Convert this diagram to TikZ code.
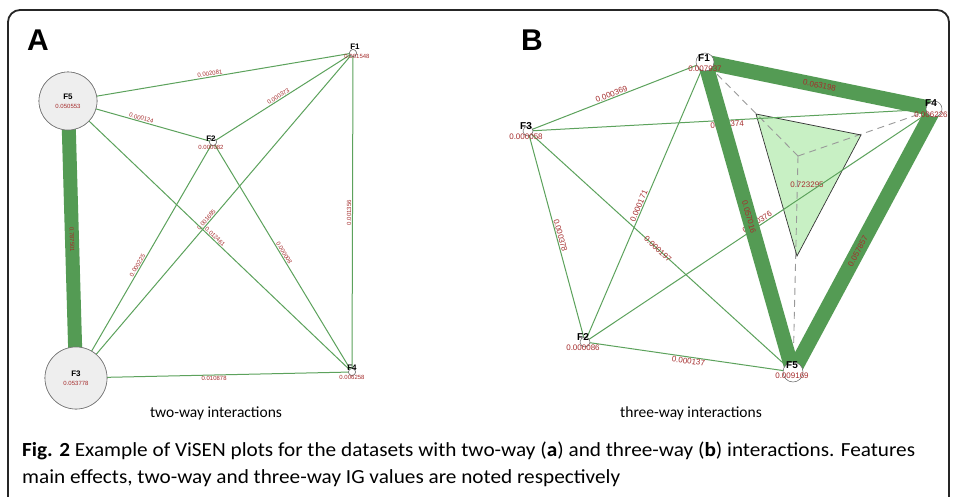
\documentclass[tikz,border=0pt]{standalone}
\usepackage{fontspec}
\setmainfont{Liberation Sans}
\newfontfamily\capfont{Carlito}
\definecolor{edgegreen}{RGB}{92,162,92}
\definecolor{bandgreen}{RGB}{84,155,84}
\definecolor{labred}{RGB}{165,45,45}
\definecolor{trifill}{RGB}{200,240,196}
\definecolor{nodegray}{RGB}{238,238,238}
\tikzset{
  thinedge/.style={draw=edgegreen, line width=1pt},
  bandA/.style={draw=bandgreen, line width=14pt},
  bandB/.style={draw=bandgreen, line width=15pt},
  elabA/.style={text=labred, font=\fontsize{6}{6}\selectfont, inner sep=0.8pt, sloped},
  elabB/.style={text=labred, font=\fontsize{8}{8}\selectfont, inner sep=0.8pt, sloped},
  bignode/.style={circle, draw=black!55, fill=nodegray, line width=0.6pt, inner sep=0pt},
  smallnode/.style={circle, draw=black!60, fill=white, line width=0.5pt, inner sep=0pt},
  fnameA/.style={font=\fontsize{8}{8}\selectfont\bfseries, inner sep=0pt},
  fvalA/.style={text=labred, font=\fontsize{6}{6}\selectfont, inner sep=0pt},
  fnameB/.style={font=\fontsize{10}{10}\selectfont\bfseries, inner sep=0pt},
  fvalB/.style={text=labred, font=\fontsize{8}{8}\selectfont, inner sep=0pt},
  panellabel/.style={font=\fontsize{30}{30}\selectfont\bfseries, inner sep=0pt},
  subtitle/.style={font=\capfont\fontsize{15.5}{15.5}\selectfont, inner sep=0pt},
  captext/.style={font=\capfont\fontsize{20}{20}\selectfont, inner sep=0pt, anchor=west},
  dashedgray/.style={draw=black!40, line width=0.9pt, dash pattern=on 7pt off 5pt}
}
\begin{document}
\begin{tikzpicture}[x=1pt,y=-1pt]
\useasboundingbox (0,0) rectangle (956,496);
\fill[white] (0,0) rectangle (956,496);
% frame
\draw[line width=1.8pt, black!85, rounded corners=12pt] (8,530) -- (8,10) -- (949,10) -- (949,530);

% ---------------- Panel A ----------------
\node[panellabel] (labA) at (38,40) {A};
\node[bignode, minimum size=58pt] (A5) at (68,101) {};
\node[bignode, minimum size=62pt] (A3) at (76,378) {};
\node[smallnode, minimum size=7pt] (A1) at (353,53) {};
\node[smallnode, minimum size=7pt] (A2) at (213,142) {};
\node[smallnode, minimum size=7pt] (A4) at (352,372) {};

\draw[thinedge] (A5.center) -- node[elabA, pos=0.5, above] {0.002081} (A1.center);
\draw[thinedge] (A5.center) -- node[elabA, pos=0.5, above] {0.000124} (A2.center);
\draw[thinedge] (A2.center) -- node[elabA, pos=0.48, above] {0.000373} (A1.center);
\draw[thinedge] (A4.center) -- node[elabA, pos=0.5, above] {0.001356} (A1.center);
\draw[thinedge] (A3.center) -- node[elabA, pos=0.5, below] {0.010878} (A4.center);
\draw[thinedge] (A3.center) -- node[elabA, pos=0.47, above] {0.000225} (A2.center);
\draw[thinedge] (A3.center) -- node[elabA, pos=0.48, above] {0.001685} (A1.center);
\draw[thinedge] (A5.center) -- node[elabA, pos=0.51, above] {0.012461} (A4.center);
\draw[thinedge] (A2.center) -- node[elabA, pos=0.49, above] {0.000008} (A4.center);
\draw[bandA] (A5.center) -- node[elabA, pos=0.5] {0.787501} (A3.center);

% nodes on top of the connectors
\node[bignode, minimum size=58pt] at (A5) {};
\node[bignode, minimum size=62pt] at (A3) {};
\node[smallnode, minimum size=7pt] at (A1) {};
\node[smallnode, minimum size=7pt] at (A2) {};
\node[smallnode, minimum size=7pt] at (A4) {};

\node[fnameA] (A5n) at (68,97) {F5};
\node[fvalA] (A5v) at (68,106) {0.050553};
\node[fnameA] (A3n) at (76,374) {F3};
\node[fvalA] (A3v) at (76,383) {0.053778};
\node[fnameA] (A1n) at (355,47) {F1};
\node[fvalA] (A1v) at (357,56) {0.001548};
\node[fnameA] (A2n) at (211,139) {F2};
\node[fvalA] (A2v) at (211,147) {0.000082};
\node[fnameA] (A4n) at (352,368) {F4};
\node[fvalA] (A4v) at (352,377) {0.006258};

\node[subtitle] (subA) at (216,413) {two-way interactions};

% ---------------- Panel B ----------------
\node[panellabel] (labB) at (532,40) {B};
\coordinate (B1) at (705,62);
\coordinate (B3) at (528,131);
\coordinate (B4) at (934,109);
\coordinate (B2) at (585,342);
\coordinate (B5) at (793,372);
\coordinate (Bc) at (798,156);

\fill[trifill] (756,114) -- (861,135) -- (797,256) -- cycle;
\node[text=labred, font=\fontsize{8}{8}\selectfont, inner sep=0pt] (tri) at (807,185) {0.723295};
\draw[dashedgray, shorten >=16pt] (Bc) -- (B1);
\draw[dashedgray, shorten >=16pt] (Bc) -- (B4);
\draw[dashedgray, shorten >=24pt] (Bc) -- (B5);
\draw[black!80, line width=0.7pt] (756,114) -- (861,135) -- (797,256) -- cycle;

\draw[thinedge] (B3) -- node[elabB, pos=0.48, above] {0.000369} (B1);
\draw[thinedge] (B3) -- node[elabB, pos=0.49, below] {0.000374} (B4);
\draw[thinedge] (B3) -- node[elabB, pos=0.5, above] {0.000378} (B2);
\draw[thinedge] (B3) -- node[elabB, pos=0.49] {0.000197} (B5);
\draw[thinedge] (B2) -- node[elabB, pos=0.48, above] {0.000171} (B1);
\draw[thinedge] (B2) -- node[elabB, pos=0.5, above] {0.000376} (B4);
\draw[thinedge] (B2) -- node[elabB, pos=0.5, below] {0.000137} (B5);

\draw[bandB] (B1) -- node[elabB, pos=0.5] {0.063198} (B4);
\draw[bandB] (B1) -- node[elabB, pos=0.5] {0.057016} (B5);
\draw[bandB] (B5) -- node[elabB, pos=0.46] {0.057857} (B4);

\node[smallnode, minimum size=18pt] (B1c) at (B1) {};
\node[smallnode, minimum size=10pt] (B3c) at (B3) {};
\node[smallnode, minimum size=16pt] (B4c) at (B4) {};
\node[smallnode, minimum size=10pt] (B2c) at (B2) {};
\node[smallnode, minimum size=20pt] (B5c) at (B5) {};

\node[fnameB] (B1n) at (704,58) {F1};
\node[fvalB] (B1v) at (705,69) {0.007937};
\node[fnameB] (B3n) at (526,126) {F3};
\node[fvalB] (B3v) at (526,137) {0.000058};
\node[fnameB] (B4n) at (931,103) {F4};
\node[fvalB] (B4v) at (931,115) {0.006226};
\node[fnameB] (B2n) at (583,337) {F2};
\node[fvalB] (B2v) at (583,348) {0.000086};
\node[fnameB] (B5n) at (792,365) {F5};
\node[fvalB] (B5v) at (792,376) {0.009169};

\node[subtitle] (subB) at (691,413) {three-way interactions};

% caption
\node[captext] (cap1) at (22,451) {\scalebox{1.062}[1]{\textbf{Fig. 2} Example of ViSEN plots for the datasets with two-way (\textbf{a}) and three-way (\textbf{b}) interactions. Features}};
\node[captext] (cap2) at (22,478) {\scalebox{1.062}[1]{main effects, two-way and three-way IG values are noted respectively}};
\end{tikzpicture}
\end{document}
